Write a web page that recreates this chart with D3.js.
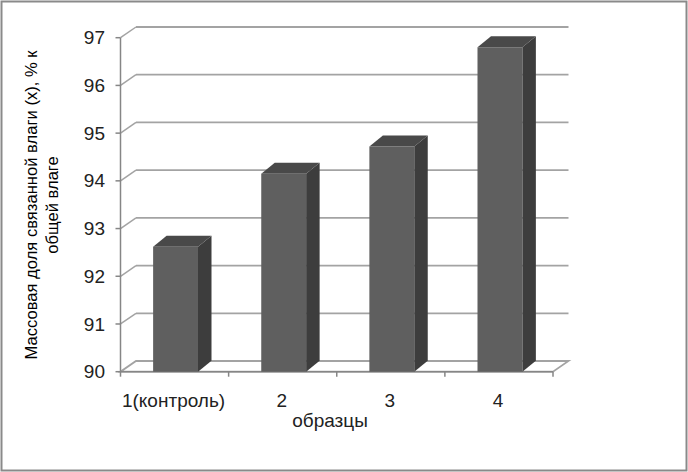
<!DOCTYPE html>
<html><head><meta charset="utf-8">
<script src="https://cdn.jsdelivr.net/npm/d3@7"></script>
<style>html,body{margin:0;padding:0;background:#fff}svg{display:block}</style>
</head><body>
<script>
const categories = ["1(контроль)", "2", "3", "4"];
const values = [92.62, 94.15, 94.72, 96.8];
const yTicks = [90, 91, 92, 93, 94, 95, 96, 97];
const xTitle = "образцы";
const yTitleLines = ["Массовая доля связанной влаги (x), % к", "общей влаге"];

const W = 688, H = 472;
const svg = d3.select("body").append("svg").attr("width", W).attr("height", H);
svg.append("rect").attr("x", 1.5).attr("y", 1.5).attr("width", W - 3).attr("height", H - 3)
  .attr("fill", "#fff").attr("stroke", "#8a8a8a").attr("stroke-width", 2);

const left = 120.5, right = 553, y0px = 371.7, y1px = 37.7;
const dX = 15.5, dY = -10.7;      // wall depth offset
const bX = 13.5, bY = -11;        // bar depth offset
const y = d3.scaleLinear().domain([90, 97]).range([y0px, y1px]);
const xb = d3.scaleBand().domain(categories).range([left, right]).paddingInner(0).paddingOuter(0);
const xbar = d3.scaleBand().domain(categories).range([left, right]).paddingInner(0.585).paddingOuter(0.2925);

const font = "'Liberation Sans', Arial, sans-serif";
const gridC = "#a3a3a3", axisC = "#868686";

// floor
svg.append("polygon")
  .attr("points", [[left, y(90)], [right, y(90)], [right + dX, y(90) + dY], [left + dX, y(90) + dY]].map(p => p.join(",")).join(" "))
  .attr("fill", "#fff").attr("stroke", gridC).attr("stroke-width", 1.8);

// gridlines on back wall with side diagonals
const g = svg.append("g");
yTicks.filter(v => v > 90).forEach(v => {
  g.append("line").attr("x1", left + dX).attr("x2", right + dX)
    .attr("y1", y(v) + dY).attr("y2", y(v) + dY).attr("stroke", gridC).attr("stroke-width", 1.8);
  g.append("line").attr("x1", left).attr("x2", left + dX)
    .attr("y1", y(v)).attr("y2", y(v) + dY).attr("stroke", gridC).attr("stroke-width", 1.5);
});

// y axis line and ticks
svg.append("line").attr("x1", left).attr("x2", left).attr("y1", y(97)).attr("y2", y(90))
  .attr("stroke", axisC).attr("stroke-width", 1.5);
yTicks.forEach(v => {
  svg.append("line").attr("x1", left - 5).attr("x2", left).attr("y1", y(v)).attr("y2", y(v))
    .attr("stroke", axisC).attr("stroke-width", 1.5);
  svg.append("text").attr("x", 105).attr("y", y(v)).attr("dy", "0.35em")
    .attr("text-anchor", "end").attr("font-family", font).attr("font-size", 19).attr("fill", "#222")
    .text(v);
});

// x axis ticks
const bounds = categories.map(c => xb(c)).concat([right]);
bounds.forEach(bx => {
  svg.append("line").attr("x1", bx).attr("x2", bx).attr("y1", y(90)).attr("y2", y(90) + 5)
    .attr("stroke", axisC).attr("stroke-width", 1.5);
});
svg.append("line").attr("x1", left).attr("x2", right).attr("y1", y(90)).attr("y2", y(90))
  .attr("stroke", axisC).attr("stroke-width", 1.5);

// bars
const shift = 1;
categories.forEach((c, i) => {
  const x0 = xbar(c) + shift, x1 = x0 + xbar.bandwidth();
  const yt = y(values[i]), yb = y(90);
  const bg = svg.append("g");
  bg.append("polygon")
    .attr("points", [[x1, yt], [x1 + bX, yt + bY], [x1 + bX, yb + bY], [x1, yb]].map(p => p.join(",")).join(" "))
    .attr("fill", "#3d3d3d");
  bg.append("polygon")
    .attr("points", [[x0, yt], [x0 + bX, yt + bY], [x1 + bX, yt + bY], [x1, yt]].map(p => p.join(",")).join(" "))
    .attr("fill", "#494949");
  bg.append("rect").attr("x", x0).attr("y", yt).attr("width", x1 - x0).attr("height", yb - yt)
    .attr("fill", "#5f5f5f");
});

// category labels
categories.forEach(c => {
  svg.append("text").attr("x", xb(c) + xb.bandwidth() / 2 - 1).attr("y", 407)
    .attr("text-anchor", "middle").attr("font-family", font).attr("font-size", 19).attr("fill", "#222")
    .text(c);
});
svg.append("text").attr("x", 330).attr("y", 427)
  .attr("text-anchor", "middle").attr("font-family", font).attr("font-size", 19).attr("fill", "#222")
  .text(xTitle);

// y title
const yt = svg.append("text").attr("transform", "translate(0,205) rotate(-90)")
  .attr("text-anchor", "middle").attr("font-family", font).attr("font-size", 16.6).attr("fill", "#000");
yt.append("tspan").attr("x", 0).attr("y", 37).text(yTitleLines[0]);
yt.append("tspan").attr("x", 0).attr("y", 58).text(yTitleLines[1]);
</script>
</body></html>
